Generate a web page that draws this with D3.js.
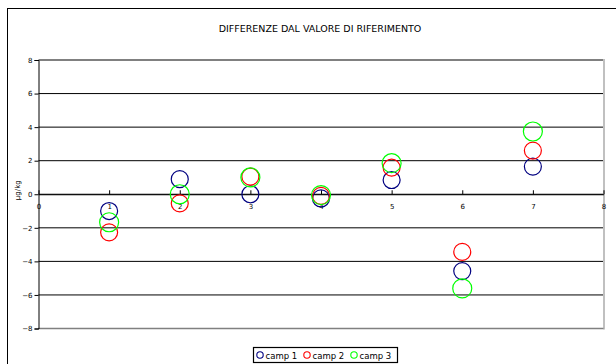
<!DOCTYPE html>
<html>
<head>
<meta charset="utf-8">
<script src="https://cdn.jsdelivr.net/npm/d3@7"></script>
<style>
  html, body { margin: 0; padding: 0; background: #fff; }
  svg { display: block; font-family: "DejaVu Sans", Verdana, sans-serif; }
</style>
</head>
<body>
<svg id="chart" width="616" height="364"></svg>
<script>
// Campaign results: difference from the reference value for samples 1..7
const samples = [1, 2, 3, 4, 5, 6, 7];
const camp1 = [-1.0, 0.9, 0.0, -0.25, 0.85, -4.58, 1.65];
const camp2 = [-2.27, -0.54, 1.05, -0.1, 1.59, -3.43, 2.6];
const camp3 = [-1.67, 0.0, 1.0, -0.05, 1.85, -5.61, 3.74];
const seriesNames = ["camp 1", "camp 2", "camp 3"];
const seriesColors = ["#000080", "#ff0000", "#00ff00"];
const xTicks = [0, 1, 2, 3, 4, 5, 6, 7, 8];
const yTicks = [-8, -6, -4, -2, 0, 2, 4, 6, 8];

const svg = d3.select("#chart");

// outer chart frame (runs off the right and bottom edges)
svg.append("rect")
  .attr("x", 7.5).attr("y", 8.5)
  .attr("width", 640).attr("height", 400)
  .attr("fill", "#fff").attr("stroke", "#000").attr("stroke-width", 1);

const plot = { left: 38.5, right: 603.5, top: 60, bottom: 328.5 };

const x = d3.scaleLinear().domain([0, 8]).range([plot.left, plot.right]);
const y = d3.scaleLinear().domain([-8, 8]).range([plot.bottom, plot.top]);

// title
svg.append("text")
  .attr("x", 320).attr("y", 32)
  .attr("text-anchor", "middle")
  .attr("font-size", 9.5)
  .text("DIFFERENZE DAL VALORE DI RIFERIMENTO");

// horizontal gridlines
svg.append("g")
  .selectAll("line")
  .data(yTicks.filter(d => d !== 8))
  .join("line")
  .attr("x1", plot.left).attr("x2", plot.right)
  .attr("y1", d => y(d)).attr("y2", d => y(d))
  .attr("stroke", "#000").attr("stroke-width", 1);

// plot area border: top and right in gray
svg.append("line")
  .attr("x1", plot.left).attr("x2", plot.right + 1)
  .attr("y1", y(8)).attr("y2", y(8))
  .attr("stroke", "#808080").attr("stroke-width", 2);
svg.append("line")
  .attr("x1", plot.right + 0.5).attr("x2", plot.right + 0.5)
  .attr("y1", y(8) - 1).attr("y2", y(-8) + 1)
  .attr("stroke", "#c0c0c0").attr("stroke-width", 2);
svg.append("line")
  .attr("x1", plot.left).attr("x2", plot.right)
  .attr("y1", y(-8)).attr("y2", y(-8))
  .attr("stroke", "#808080").attr("stroke-width", 1.5);

// y axis
const yAxis = d3.axisLeft(y).tickValues(yTicks).tickSize(4).tickPadding(2)
  .tickFormat(d3.format("d"));
const gy = svg.append("g")
  .attr("transform", `translate(${plot.left},0)`)
  .call(yAxis);
gy.select(".domain").attr("stroke", "#000");
gy.selectAll(".tick line").attr("stroke", "#000");
gy.selectAll(".tick text")
  .attr("font-family", "DejaVu Sans, Verdana, sans-serif")
  .attr("font-size", 7).attr("fill", "#000");

// x axis crossing at zero, inside tick marks
const xAxis = d3.axisBottom(x).tickValues(xTicks).tickSizeInner(-4).tickSizeOuter(0)
  .tickPadding(10).tickFormat(d3.format("d"));
const gx = svg.append("g")
  .attr("transform", `translate(0,${y(0)})`)
  .call(xAxis);
gx.select(".domain").attr("stroke", "#000");
gx.selectAll(".tick line").attr("stroke", "#000");
gx.selectAll(".tick text")
  .attr("font-family", "DejaVu Sans, Verdana, sans-serif")
  .attr("font-size", 7).attr("fill", "#000");

// y axis title
svg.append("text")
  .attr("transform", `translate(20,${y(0) - 4}) rotate(-90)`)
  .attr("text-anchor", "middle")
  .attr("font-size", 7)
  .text("µg/kg");

// data markers
const allSeries = [camp1, camp2, camp3];
const radii = [8.5, 8.5, 9.5];
allSeries.forEach((vals, i) => {
  svg.append("g")
    .selectAll("circle")
    .data(samples.map((s, j) => ({ s, v: vals[j] })))
    .join("circle")
    .attr("cx", d => x(d.s))
    .attr("cy", d => y(d.v))
    .attr("r", radii[i])
    .attr("fill", "none")
    .attr("stroke", seriesColors[i])
    .attr("stroke-width", 1.2);
});

// legend
const lg = svg.append("g");
lg.append("rect")
  .attr("x", 253.5).attr("y", 347.5)
  .attr("width", 144).attr("height", 15)
  .attr("fill", "#fff").attr("stroke", "#000").attr("stroke-width", 1.2);
const legendX = [256, 303, 350];
seriesNames.forEach((name, i) => {
  lg.append("circle")
    .attr("cx", legendX[i] + 4).attr("cy", 355)
    .attr("r", 3.2)
    .attr("fill", "none").attr("stroke", seriesColors[i]).attr("stroke-width", 1.1);
  lg.append("text")
    .attr("x", legendX[i] + 9.5).attr("y", 358.5)
    .attr("font-size", 8.5)
    .text(name);
});
</script>
</body>
</html>
